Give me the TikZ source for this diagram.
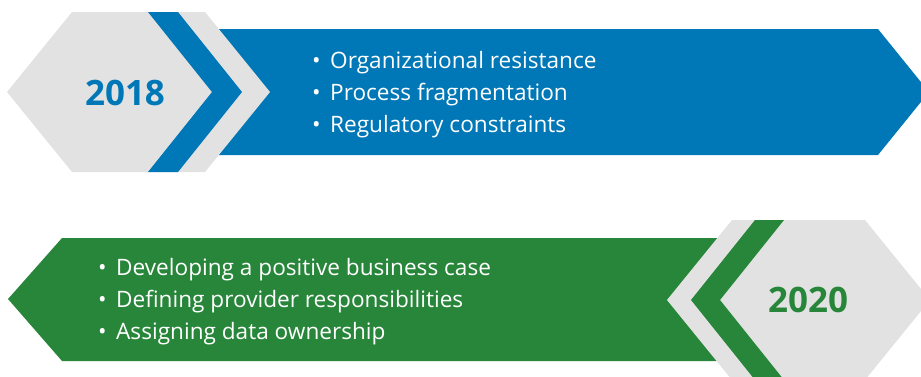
\documentclass[tikz,border=0pt]{standalone}
\usepackage{fontspec}
\setmainfont{Open Sans}
\usetikzlibrary{positioning}
\definecolor{ChevBlue}{HTML}{0077B6}
\definecolor{ChevGreen}{HTML}{28863A}
\definecolor{HexGray}{HTML}{E2E2E2}

\begin{document}
\begin{tikzpicture}[
  x=1pt, y=-1pt,
  every node/.style = {inner sep=0pt},
  items/.style = {anchor=west, align=left, text=white,
                  font=\fontsize{22.6}{32}\selectfont},
  year/.style  = {font=\fontsize{35}{40}\selectfont\bfseries},
]
\useasboundingbox (0,0) rectangle (921,376);
\clip (0,0) rectangle (921,376);

% 2018 row
\fill[ChevBlue] (200,29) -- (878,29) -- (929,92) -- (878,155) -- (200,155) -- cycle;
\fill[HexGray] (7,92) -- (72,12) -- (205,12) -- (270,92) -- (205,172) -- (72,172) -- cycle;
\fill[ChevBlue] (148,12) -- (178,12) -- (242,92) -- (178,172) -- (148,172) -- (212,92) -- cycle;

\node[year, text=ChevBlue] (y2018) at (125,93) {2018};
\node[items] (items2018) at (312,95) {%
  \makebox[18pt][l]{\textbullet}Organizational resistance\\
  \makebox[18pt][l]{\textbullet}Process fragmentation\\
  \makebox[18pt][l]{\textbullet}Regulatory constraints};

% 2020 row
\fill[ChevGreen] (750,238) -- (62,238) -- (8,299) -- (62,361) -- (750,361) -- cycle;
\fill[HexGray] (930,300) -- (865,220) -- (732,220) -- (667,300) -- (732,380) -- (865,380) -- cycle;
\fill[ChevGreen] (784,220) -- (755,220) -- (691,300) -- (755,380) -- (784,380) -- (720,300) -- cycle;

\node[year, text=ChevGreen] (y2020) at (808,300) {2020};
\node[items] (items2020) at (98,302) {%
  \makebox[18pt][l]{\textbullet}Developing a positive business case\\
  \makebox[18pt][l]{\textbullet}Defining provider responsibilities\\
  \makebox[18pt][l]{\textbullet}Assigning data ownership};

\end{tikzpicture}
\end{document}
